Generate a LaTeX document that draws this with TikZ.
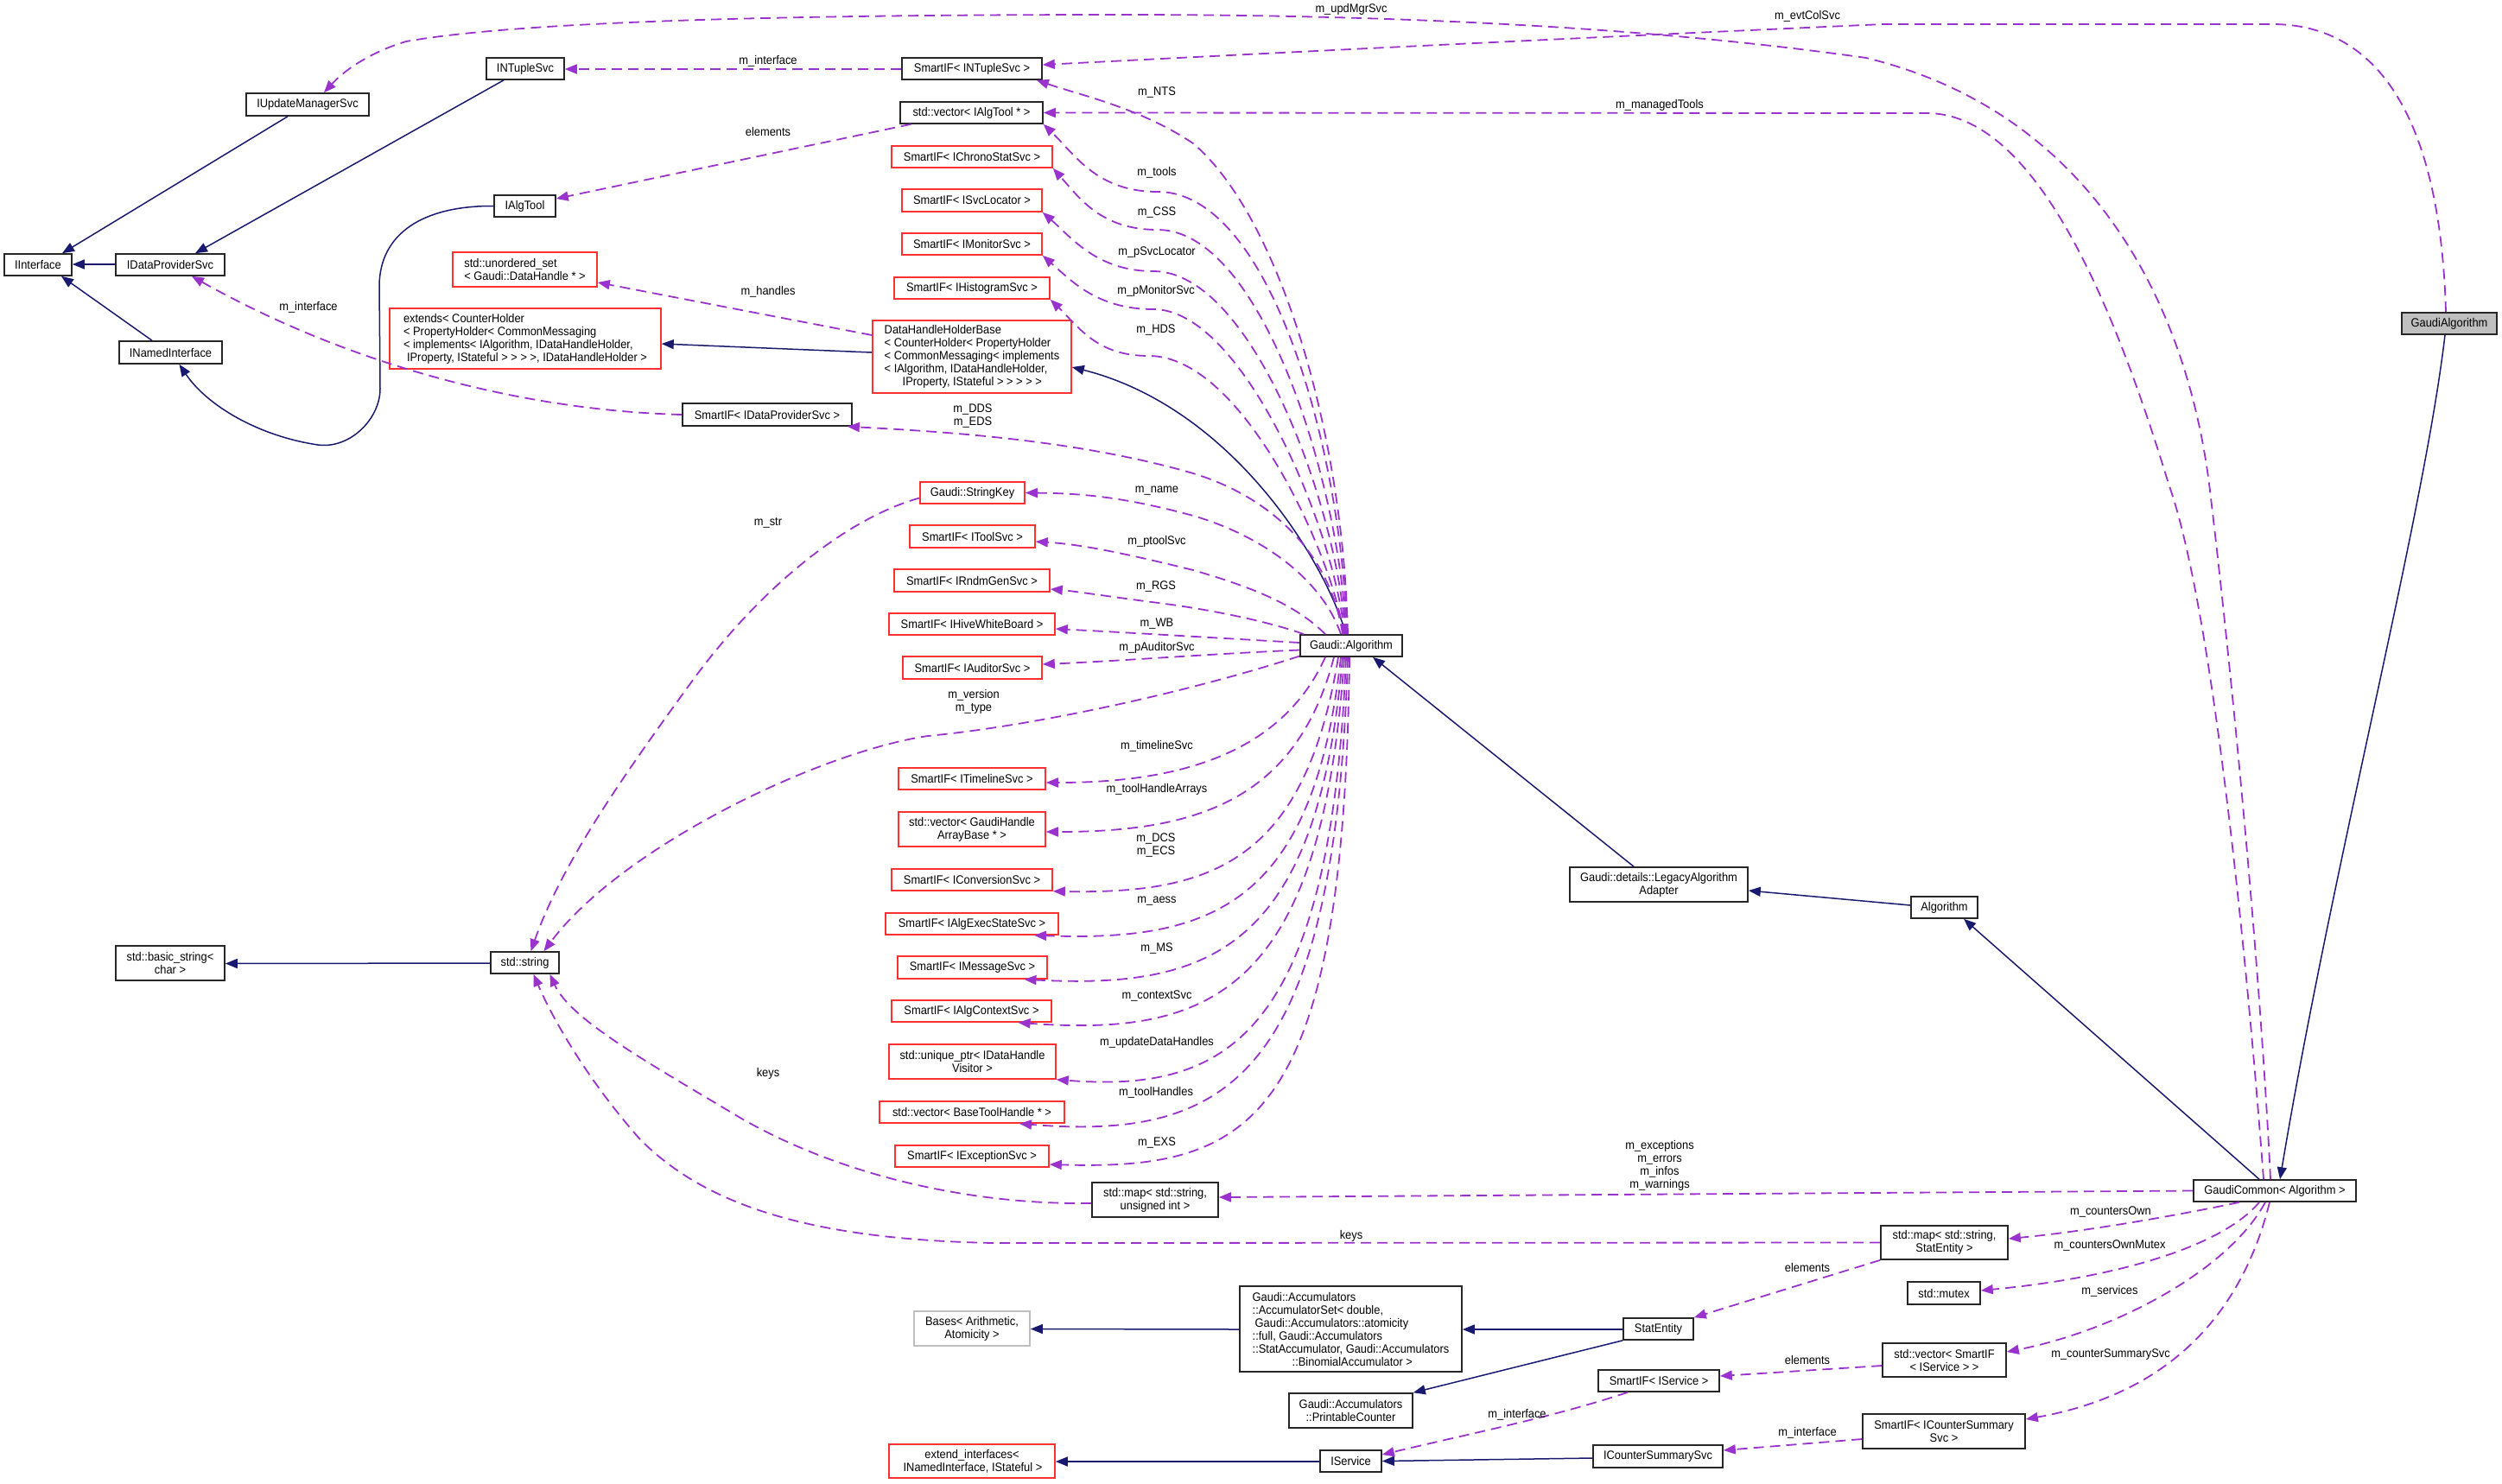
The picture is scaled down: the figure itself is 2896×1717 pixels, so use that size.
\documentclass[tikz,border=0pt]{standalone}
\usepackage{fontspec}
\setmainfont{Liberation Sans}[FakeStretch=0.92]
\usetikzlibrary{arrows.meta}
\definecolor{dpurple}{HTML}{9A32CD}
\definecolor{dnavy}{HTML}{191970}
\definecolor{dred}{HTML}{FF3030}
\definecolor{dgray}{HTML}{BFBFBF}
\newcommand\nf{\fontsize{14}{15}\selectfont}
\newcommand\mkbox[6]{\node[#1, minimum width=#4pt, minimum height=#5pt] (#2) at #3 {#6};}
\begin{document}
\begin{tikzpicture}[x=1pt, y=-1pt,
  bbox/.style={draw=black!85, line width=1.6pt, inner sep=0pt, align=center, font=\nf, fill=white},
  rbox/.style={bbox, draw=dred},
  gbox/.style={bbox, draw=dgray},
  lbl/.style={inner sep=0pt, align=center, font=\nf},
  inh/.style={draw=dnavy, line width=1.5pt, -{Triangle[length=14pt,width=11pt]}},
  mem/.style={draw=dpurple, line width=1.8pt, dash pattern=on 12pt off 7pt, -{Triangle[length=14pt,width=11pt]}}]
\useasboundingbox (0,0) rectangle (2896,1717);
% ---------- nodes ----------
\mkbox{bbox}{iinterface}{(44,306.5)}{78}{25}{IInterface}
\mkbox{bbox}{idps}{(197,306.5)}{126}{25}{IDataProviderSvc}
\mkbox{bbox}{iupd}{(356,121)}{142}{26}{IUpdateManagerSvc}
\mkbox{bbox}{intuple}{(608,79.5)}{90}{25}{INTupleSvc}
\mkbox{bbox}{inamed}{(197.5,408)}{119}{26}{INamedInterface}
\mkbox{bbox}{ialgtool}{(607.5,238.5)}{71}{25}{IAlgTool}
\node[rbox, align=left, minimum width=167pt, minimum height=40pt] (uset) at (607.5,312) {std::unordered\_set\\< Gaudi::DataHandle * >};
\node[rbox, align=left, minimum width=314pt, minimum height=70pt] (extends) at (608,392) {extends< CounterHolder\\< PropertyHolder< CommonMessaging\\< implements< IAlgorithm, IDataHandleHolder,\\\hspace*{4pt}IProperty, IStateful > > > >, IDataHandleHolder >};
\mkbox{bbox}{sintuple}{(1125,79.5)}{162}{25}{SmartIF< INTupleSvc >}
\mkbox{bbox}{valgtool}{(1124.5,130.5)}{165}{25}{std::vector< IAlgTool * >}
\mkbox{rbox}{schrono}{(1125,181.5)}{186}{25}{SmartIF< IChronoStatSvc >}
\mkbox{rbox}{ssvcloc}{(1125,232)}{162}{26}{SmartIF< ISvcLocator >}
\mkbox{rbox}{smon}{(1125,282.5)}{162}{25}{SmartIF< IMonitorSvc >}
\mkbox{rbox}{shist}{(1125,333.5)}{180}{25}{SmartIF< IHistogramSvc >}
\node[rbox, align=left, minimum width=230pt, minimum height=84pt] (dhhb) at (1125,413) {DataHandleHolderBase\\< CounterHolder< PropertyHolder\\< CommonMessaging< implements\\< IAlgorithm, IDataHandleHolder,\\\hspace*{21pt}IProperty, IStateful > > > > >};
\mkbox{bbox}{sdps}{(888,480)}{196}{26}{SmartIF< IDataProviderSvc >}
\mkbox{rbox}{strkey}{(1125.5,570.5)}{121}{25}{Gaudi::StringKey}
\mkbox{rbox}{stool}{(1125.5,621)}{145}{26}{SmartIF< IToolSvc >}
\mkbox{rbox}{srndm}{(1125,672)}{180}{26}{SmartIF< IRndmGenSvc >}
\mkbox{rbox}{shive}{(1125,722.5)}{192}{25}{SmartIF< IHiveWhiteBoard >}
\mkbox{rbox}{saud}{(1125.5,773)}{161}{26}{SmartIF< IAuditorSvc >}
\mkbox{rbox}{stime}{(1125,901.5)}{170}{25}{SmartIF< ITimelineSvc >}
\mkbox{rbox}{vgha}{(1125,960)}{170}{40}{std::vector< GaudiHandle\\ArrayBase * >}
\mkbox{rbox}{sconv}{(1125,1018.5)}{186}{25}{SmartIF< IConversionSvc >}
\mkbox{rbox}{saess}{(1125,1069.5)}{200}{25}{SmartIF< IAlgExecStateSvc >}
\mkbox{rbox}{smsg}{(1125.5,1120)}{173}{26}{SmartIF< IMessageSvc >}
\mkbox{rbox}{sctx}{(1124.5,1170.5)}{185}{25}{SmartIF< IAlgContextSvc >}
\mkbox{rbox}{uptr}{(1125.5,1229)}{193}{40}{std::unique\_ptr< IDataHandle\\Visitor >}
\mkbox{rbox}{vbth}{(1125,1287.5)}{214}{25}{std::vector< BaseToolHandle * >}
\mkbox{rbox}{sexc}{(1125,1338.5)}{178}{25}{SmartIF< IExceptionSvc >}
\mkbox{bbox}{mapsu}{(1337,1389)}{146}{40}{std::map< std::string,\\unsigned int >}
\mkbox{bbox}{basicstr}{(197,1115)}{126}{40}{std::basic\_string<\\char >}
\mkbox{bbox}{stdstring}{(607.5,1114.5)}{79}{25}{std::string}
\mkbox{bbox}{galgo}{(1564,747.5)}{118}{25}{Gaudi::Algorithm}
\mkbox{bbox}{legacy}{(1920,1024)}{206}{40}{Gaudi::details::LegacyAlgorithm\\Adapter}
\mkbox{bbox}{algorithm}{(2250.5,1050.5)}{77}{25}{Algorithm}
\node[bbox, fill=dgray, minimum width=110pt, minimum height=25pt] (gaudialg) at (2835,374.5) {GaudiAlgorithm};
\mkbox{bbox}{gcommon}{(2633,1378.5)}{188}{25}{GaudiCommon< Algorithm >}
\mkbox{bbox}{mapse}{(2250.5,1438.5)}{147}{39}{std::map< std::string,\\StatEntity >}
\mkbox{bbox}{mutex}{(2250,1497)}{84}{26}{std::mutex}
\mkbox{bbox}{vsis}{(2250.5,1574.5)}{143}{39}{std::vector< SmartIF\\< IService > >}
\mkbox{bbox}{scsum}{(2250,1657)}{188}{40}{SmartIF< ICounterSummary\\Svc >}
\node[bbox, align=left, minimum width=257pt, minimum height=99pt] (accset) at (1563.5,1538.5) {Gaudi::Accumulators\\::AccumulatorSet< double,\\\hspace*{3pt}Gaudi::Accumulators::atomicity\\::full, Gaudi::Accumulators\\::StatAccumulator, Gaudi::Accumulators\\\hspace*{46pt}::BinomialAccumulator >};
\mkbox{gbox}{bases}{(1125,1538)}{134}{40}{Bases< Arithmetic,\\Atomicity >}
\mkbox{bbox}{statentity}{(1919.5,1538.5)}{81}{25}{StatEntity}
\mkbox{bbox}{printable}{(1563.5,1633)}{143}{40}{Gaudi::Accumulators\\::PrintableCounter}
\mkbox{bbox}{ssvc}{(1920,1598.5)}{140}{25}{SmartIF< IService >}
\mkbox{bbox}{iservice}{(1563.5,1691.5)}{71}{25}{IService}
\mkbox{bbox}{icsum}{(1919,1686)}{150}{26}{ICounterSummarySvc}
\mkbox{rbox}{extif}{(1125,1691.5)}{192}{39}{extend\_interfaces<\\\hspace*{2pt}INamedInterface, IStateful >}
% ---------- inheritance ----------
\draw[inh] ([xshift=-23pt]iupd.south) -- ([xshift=28pt]iinterface.north);
\draw[inh] ([xshift=-25pt]intuple.south) -- ([xshift=29pt]idps.north);
\draw[inh] ([yshift=0.5pt]idps.west) -- ([yshift=0.5pt]iinterface.east);
\draw[inh] ([xshift=-21.5pt]inamed.north) -- ([xshift=27pt]iinterface.south);
\draw[inh] (ialgtool.west) .. controls (490,238) and (440,270) .. (439,330) -- (440,450) .. controls (440,485) and (405,520) .. (368,515) .. controls (300,505) and (240,470) .. ([xshift=10pt]inamed.south);
\draw[inh] ([yshift=5pt]dhhb.west) -- ([yshift=-6pt]extends.east);
\draw[inh] ([xshift=-6pt]galgo.north) .. controls (1530,640) and (1420,470) .. ([yshift=-12pt]dhhb.east);
\draw[inh] ([xshift=-29pt]legacy.north) -- ([xshift=25pt]galgo.south);
\draw[inh] ([yshift=2.5pt]algorithm.west) -- ([yshift=-7pt]legacy.east);
\draw[inh] ([xshift=-18pt]gcommon.north) -- ([xshift=22.5pt]algorithm.south);
\draw[inh] ([xshift=-5pt]gaudialg.south) .. controls (2805,600) and (2700,1000) .. ([xshift=6pt]gcommon.north);
\draw[inh] ([yshift=-0.5pt]stdstring.west) -- ([yshift=-0.5pt]basicstr.east);
\draw[inh] ([yshift=-0.5pt]statentity.west) -- ([yshift=-0.5pt]accset.east);
\draw[inh] (statentity.south west) -- (printable.north east);
\draw[inh] ([yshift=-0.5pt]accset.west) -- ([yshift=-0.5pt]bases.east);
\draw[inh] ([yshift=-0.5pt]iservice.west) -- ([yshift=-0.5pt]extif.east);
\draw[inh] ([yshift=-2pt]icsum.west) -- (iservice.east);
% ---------- members: long top ----------
\draw[mem] ([xshift=-5pt]gcommon.north) .. controls (2615,1100) and (2580,750) .. (2557,560) .. controls (2530,350) and (2420,130) .. (2160,67) .. controls (1900,30) and (1600,17) .. (1300,17) .. controls (900,17) and (600,25) .. (470,48) .. controls (430,60) and (400,80) .. ([xshift=19pt]iupd.north);
\draw[mem] ([xshift=-4pt]gaudialg.north) .. controls (2825,150) and (2760,28) .. (2630,28) -- (2180,28) .. controls (1800,45) and (1500,60) .. ([yshift=4.5pt]sintuple.east);
\draw[mem] ([xshift=-13pt]gcommon.north) .. controls (2600,1100) and (2560,700) .. (2510,560) .. controls (2440,330) and (2350,131) .. (2230,131) -- (valgtool.east);
% ---------- members of Gaudi::Algorithm (top) ----------
\draw[mem] ([xshift=-4pt]galgo.north) .. controls (1555,500) and (1480,250) .. (1381,166) .. controls (1320,125) and (1250,110) .. ([xshift=-7pt]sintuple.south east);
\draw[mem] ([xshift=-5pt]galgo.north) .. controls (1553,520) and (1470,222) .. (1340,222) .. controls (1270,222) and (1245,180) .. (valgtool.south east);
\draw[mem] ([xshift=-6pt]galgo.north) .. controls (1551,560) and (1460,266) .. (1340,266) .. controls (1275,266) and (1250,230) .. (schrono.south east);
\draw[mem] ([xshift=-7pt]galgo.north) .. controls (1549,590) and (1450,314) .. (1335,314) .. controls (1270,314) and (1240,275) .. (ssvcloc.south east);
\draw[mem] ([xshift=-8pt]galgo.north) .. controls (1547,620) and (1440,358) .. (1335,358) .. controls (1270,358) and (1240,325) .. (smon.south east);
\draw[mem] ([xshift=-9pt]galgo.north) .. controls (1545,650) and (1440,412) .. (1330,412) .. controls (1270,412) and (1250,380) .. (shist.south east);
\draw[mem] ([xshift=-10pt]galgo.north) .. controls (1540,640) and (1470,575) .. (1381,548) .. controls (1250,510) and (1100,500) .. ([xshift=-6pt]sdps.south east);
\draw[mem] ([xshift=-12pt]galgo.north) .. controls (1530,670) and (1460,620) .. (1381,597) .. controls (1300,575) and (1250,571) .. (strkey.east);
\draw[mem] ([xshift=-30pt]galgo.north) .. controls (1500,700) and (1450,680) .. (1381,660) .. controls (1300,640) and (1250,630) .. ([yshift=-6pt]stool.east);
\draw[mem] ([xshift=5pt]galgo.north west) .. controls (1470,720) and (1400,705) .. (1333,697) .. controls (1280,690) and (1240,684) .. ([yshift=-10pt]srndm.east);
\draw[mem] ([yshift=3.5pt]galgo.west) .. controls (1400,738) and (1300,732) .. ([yshift=-5.5pt]shive.east);
\draw[mem] ([yshift=-5pt]galgo.west) .. controls (1400,757) and (1300,765) .. ([yshift=4pt]saud.east);
\draw[mem] ([yshift=-12pt]galgo.west) .. controls (1380,800) and (1200,840) .. (1074,852) .. controls (950,870) and (720,980) .. ([xshift=22pt]stdstring.north);
% ---------- members of Gaudi::Algorithm (bottom) ----------
\draw[mem] ([xshift=-30pt]galgo.south) .. controls (1480,880) and (1350,906) .. ([yshift=-4.5pt]stime.east);
\draw[mem] ([xshift=-20pt]galgo.south) .. controls (1500,930) and (1380,963) .. ([yshift=-3pt]vgha.east);
\draw[mem] ([xshift=-15pt]galgo.south) .. controls (1510,1000) and (1400,1035) .. (sconv.south east);
\draw[mem] ([xshift=-12pt]galgo.south) .. controls (1520,1050) and (1400,1090) .. ([xshift=72pt]saess.south);
\draw[mem] ([xshift=-10pt]galgo.south) .. controls (1525,1100) and (1400,1145) .. ([xshift=60pt]smsg.south);
\draw[mem] ([xshift=-8pt]galgo.south) .. controls (1530,1150) and (1400,1200) .. ([xshift=54pt]sctx.south);
\draw[mem] ([xshift=-6pt]galgo.south) .. controls (1540,1200) and (1420,1265) .. (uptr.south east);
\draw[mem] ([xshift=-4pt]galgo.south) .. controls (1545,1250) and (1420,1320) .. ([xshift=55pt]vbth.south);
\draw[mem] ([xshift=-2pt]galgo.south) .. controls (1555,1300) and (1450,1355) .. ([yshift=-9.5pt]sexc.east);
% ---------- other members ----------
\draw[mem] ([xshift=-70pt]valgtool.south) -- ([yshift=8.5pt]ialgtool.east);
\draw[mem] ([yshift=25pt]dhhb.west) -- ([yshift=-15pt]uset.east);
\draw[mem] (sdps.west) .. controls (600,475) and (400,420) .. ([xshift=25pt]idps.south);
\draw[mem] ([yshift=-0.5pt]sintuple.west) -- ([yshift=-0.5pt]intuple.east);
\draw[mem] ([yshift=-6pt]strkey.west) .. controls (980,600) and (880,680) .. (800,790) .. controls (720,900) and (650,1000) .. ([xshift=7pt]stdstring.north);
\draw[mem] ([yshift=-4pt]mapsu.west) .. controls (1100,1395) and (950,1350) .. (850,1290) .. controls (750,1230) and (660,1180) .. ([xshift=29pt]stdstring.south);
\draw[mem] (mapse.west) -- (1150,1439) .. controls (950,1435) and (820,1400) .. (740,1318) .. controls (680,1250) and (640,1180) .. ([xshift=10pt]stdstring.south);
\draw[mem] (gcommon.west) -- ([yshift=3pt]mapsu.east);
\draw[mem] ([xshift=-41pt]gcommon.south) .. controls (2530,1405) and (2420,1425) .. ([yshift=4.5pt]mapse.east);
\draw[mem] ([xshift=-18pt]gcommon.south) .. controls (2575,1440) and (2460,1478) .. ([yshift=3pt]mutex.east);
\draw[mem] ([xshift=-11pt]gcommon.south) .. controls (2580,1470) and (2450,1540) .. ([yshift=9.5pt]vsis.east);
\draw[mem] ([xshift=-6pt]gcommon.south) .. controls (2600,1500) and (2530,1610) .. ([yshift=14pt]scsum.east);
\draw[mem] (mapse.south west) -- (statentity.north east);
\draw[mem] ([yshift=-6.5pt]vsis.west) -- ([yshift=5.5pt]ssvc.east);
\draw[mem] ([xshift=-36pt]ssvc.south) .. controls (1800,1640) and (1700,1660) .. ([yshift=7.5pt]iservice.east);
\draw[mem] ([yshift=-9pt]scsum.west) -- ([yshift=7pt]icsum.east);
% ---------- labels ----------
\node[lbl] (l1) at (1564,11) {m\_updMgrSvc};
\node[lbl] (l2) at (2092,19) {m\_evtColSvc};
\node[lbl] (l3) at (1921,122) {m\_managedTools};
\node[lbl] (l4) at (889,71) {m\_interface};
\node[lbl] (l5) at (1339,107) {m\_NTS};
\node[lbl] (l6) at (889,152) {elements};
\node[lbl] (l7) at (1339,200) {m\_tools};
\node[lbl] (l8) at (1339,246) {m\_CSS};
\node[lbl] (l9) at (1339,292) {m\_pSvcLocator};
\node[lbl] (l10) at (1338,337) {m\_pMonitorSvc};
\node[lbl] (l11) at (889,338) {m\_handles};
\node[lbl] (l12) at (357,356) {m\_interface};
\node[lbl] (l13) at (1338,382) {m\_HDS};
\node[lbl] (l14) at (1126,481) {m\_DDS\\m\_EDS};
\node[lbl] (l15) at (1339,568) {m\_name};
\node[lbl] (l16) at (889,605) {m\_str};
\node[lbl] (l17) at (1339,627) {m\_ptoolSvc};
\node[lbl] (l18) at (1338,679) {m\_RGS};
\node[lbl] (l19) at (1339,722) {m\_WB};
\node[lbl] (l20) at (1339,750) {m\_pAuditorSvc};
\node[lbl] (l21) at (1127,812) {m\_version\\m\_type};
\node[lbl] (l22) at (1339,864) {m\_timelineSvc};
\node[lbl] (l23) at (1339,914) {m\_toolHandleArrays};
\node[lbl] (l24) at (1338,978) {m\_DCS\\m\_ECS};
\node[lbl] (l25) at (1339,1043) {m\_aess};
\node[lbl] (l26) at (1339,1098) {m\_MS};
\node[lbl] (l27) at (1339,1153) {m\_contextSvc};
\node[lbl] (l28) at (1339,1207) {m\_updateDataHandles};
\node[lbl] (l29) at (889,1243) {keys};
\node[lbl] (l30) at (1338,1265) {m\_toolHandles};
\node[lbl] (l31) at (1339,1323) {m\_EXS};
\node[lbl] (l32) at (1921,1349) {m\_exceptions\\m\_errors\\m\_infos\\m\_warnings};
\node[lbl] (l33) at (2443,1403) {m\_countersOwn};
\node[lbl] (l34) at (1564,1431) {keys};
\node[lbl] (l35) at (2442,1442) {m\_countersOwnMutex};
\node[lbl] (l36) at (2092,1467) {elements};
\node[lbl] (l37) at (2442,1495) {m\_services};
\node[lbl] (l38) at (2443,1568) {m\_counterSummarySvc};
\node[lbl] (l39) at (2092,1574) {elements};
\node[lbl] (l40) at (1756,1638) {m\_interface};
\node[lbl] (l41) at (2092,1659) {m\_interface};
\end{tikzpicture}
\end{document}
